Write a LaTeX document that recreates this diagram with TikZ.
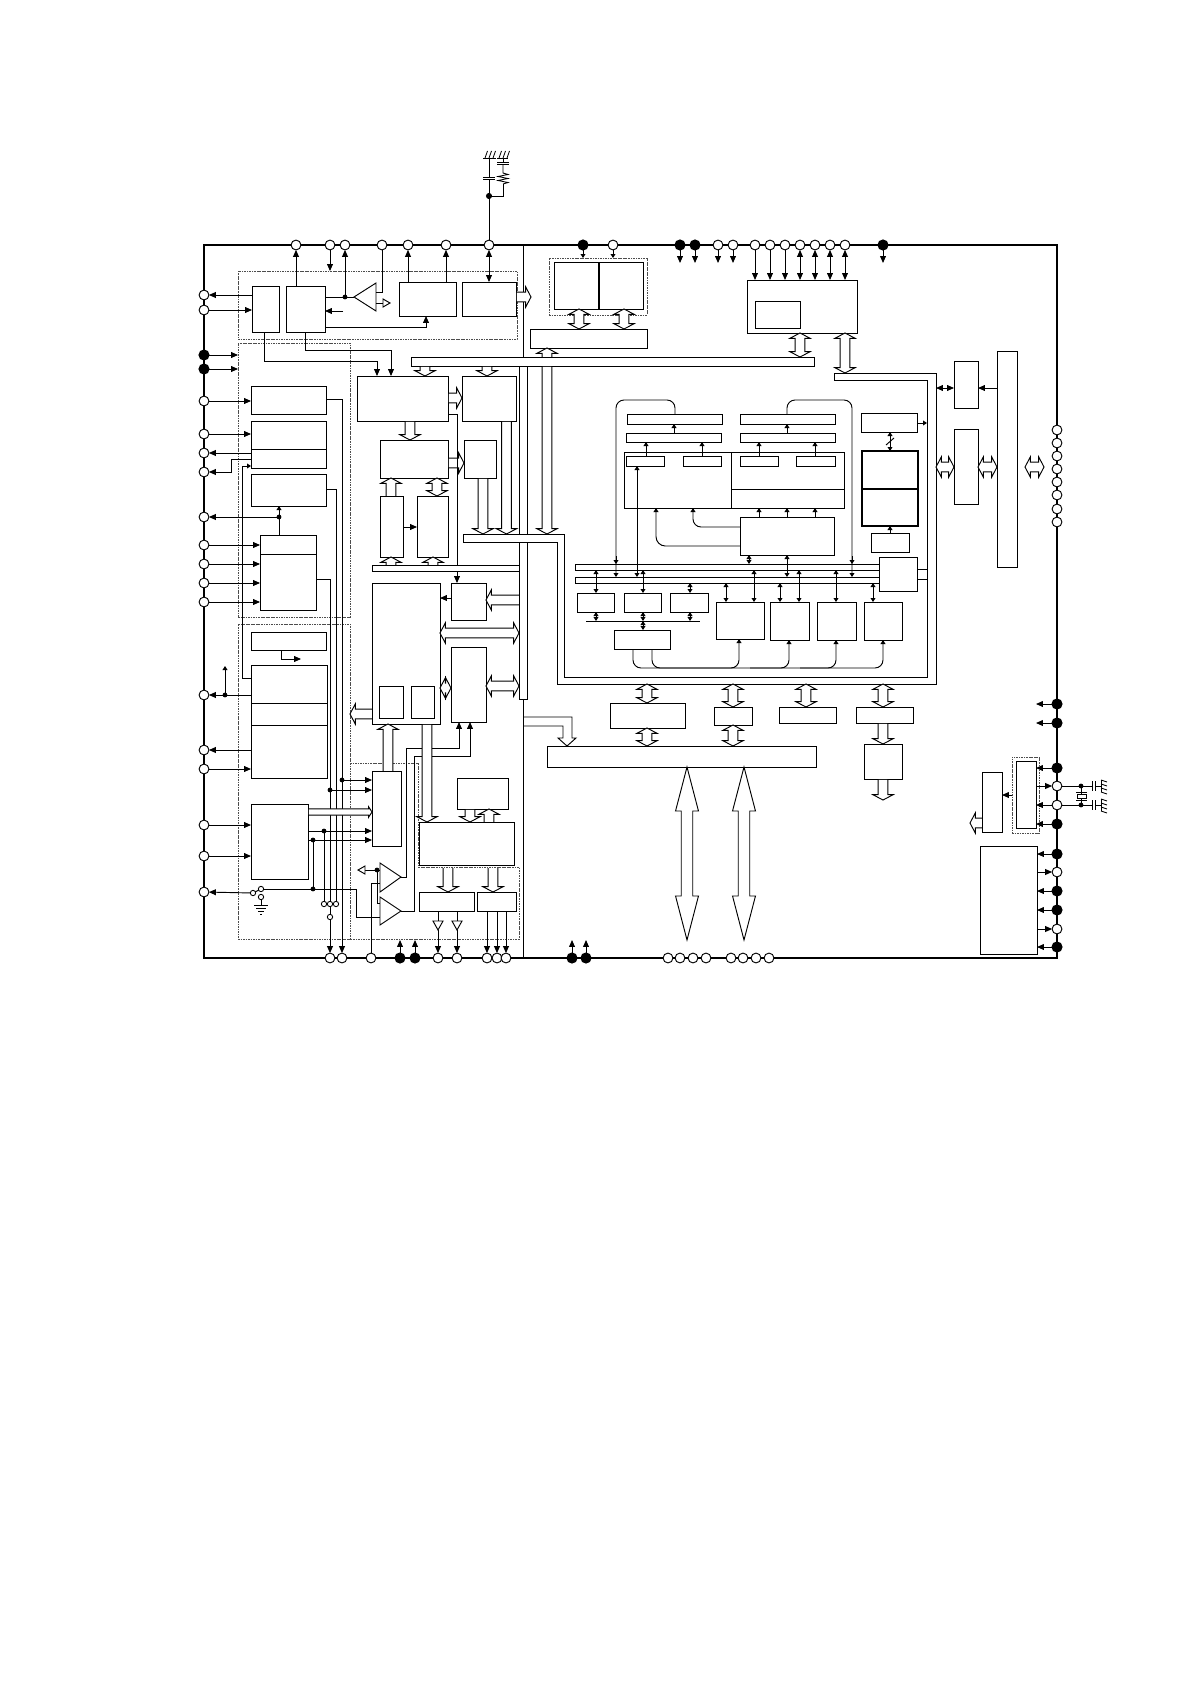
\documentclass[tikz,border=0pt]{standalone}
\usetikzlibrary{calc,arrows.meta}
\tikzset{
 blk/.style={draw=black,fill=white,line width=0.7pt,inner sep=0pt,outer sep=0pt},
 dashbox/.style={draw=black!70,fill=none,line width=0.75pt,dash pattern=on 1.3pt off 0.6pt},
 ln/.style={draw=black,line width=0.7pt},
 arr/.style={ln,-{Triangle[length=5.2pt,width=4.4pt]}},
 dbl/.style={ln,{Triangle[length=5.2pt,width=4.4pt]}-{Triangle[length=5.2pt,width=4.4pt]}},
 sarr/.style={ln,-{Triangle[length=3pt,width=3.6pt]}},
 sdbl/.style={ln,{Triangle[length=3pt,width=3.6pt]}-{Triangle[length=3pt,width=3.6pt]}},
 widea/.style={draw=black,fill=white,line width=0.7pt,line join=miter},
 opin/.style={circle,draw=black,fill=white,line width=0.7pt,minimum size=7.4pt,inner sep=0pt,outer sep=0pt},
 fpin/.style={circle,draw=black,fill=black,line width=0.7pt,minimum size=7.6pt,inner sep=0pt,outer sep=0pt},
 dotn/.style={circle,fill=black,minimum size=3.6pt,inner sep=0pt,outer sep=0pt},
 tinyo/.style={circle,draw=black,fill=white,line width=0.65pt,minimum size=4pt,inner sep=0pt,outer sep=0pt},
 frameln/.style={draw=black,line width=1.7pt},
}
\newcommand\bx[6][]{%
 \pgfmathsetmacro\bw{(#5-#3)*0.75}\pgfmathsetmacro\bh{(#6-#4)*0.75}%
 \node[blk,minimum width=\bw pt,minimum height=\bh pt,#1] (#2) at ({(#3+#5)/2},{(#4+#6)/2}) {};}
% wide (hollow) arrows: head at the end, or at both ends
\newcommand\Wide[3][]{\begingroup\def\wh{3.7pt}\def\wH{7.6pt}\def\wL{4pt}#1%
 \coordinate (wa) at (#2);\coordinate (wb) at (#3);
 \coordinate (wc) at ($(wb)!\wL!(wa)$);
 \coordinate (we) at ($(wa)!0.6pt!(wb)$);
 \fill[white] ($(we)!\wh!90:(wb)$) -- ($(wc)!\wh!90:(wb)$) -- ($(wc)!\wH!90:(wb)$) -- (wb) -- ($(wc)!\wH!-90:(wb)$) -- ($(wc)!\wh!-90:(wb)$) -- ($(we)!\wh!-90:(wb)$) -- cycle;
 \draw[widea,fill=none] ($(wa)!\wh!90:(wb)$) -- ($(wc)!\wh!90:(wb)$) -- ($(wc)!\wH!90:(wb)$) -- (wb) -- ($(wc)!\wH!-90:(wb)$) -- ($(wc)!\wh!-90:(wb)$) -- ($(wa)!\wh!-90:(wb)$);
 \endgroup}
\newcommand\WideD[3][]{\begingroup\def\wh{3.7pt}\def\wH{7.6pt}\def\wL{4pt}#1%
 \coordinate (wa) at (#2);\coordinate (wb) at (#3);
 \coordinate (wc) at ($(wb)!\wL!(wa)$);\coordinate (wd) at ($(wa)!\wL!(wb)$);
 \draw[widea] (wa) -- ($(wd)!\wH!90:(wb)$) -- ($(wd)!\wh!90:(wb)$) -- ($(wc)!\wh!90:(wb)$) -- ($(wc)!\wH!90:(wb)$) -- (wb) -- ($(wc)!\wH!-90:(wb)$) -- ($(wc)!\wh!-90:(wb)$) -- ($(wd)!\wh!-90:(wb)$) -- ($(wd)!\wH!-90:(wb)$) -- cycle;
 \endgroup}
\begin{document}
\begin{tikzpicture}[x=0.75pt,y=-0.75pt]
\useasboundingbox (0,0) rectangle (1191,1684);
\fill[white] (0,0) rectangle (1191,1684);
% ---- vertical divider
\draw[ln] (523,245) -- (523,357);
\draw[ln] (523,699) -- (523,958);
% ---- frame and pins
\draw[frameln] (204,245) rectangle (1057,958);
\foreach \x in {296,330,345,382,408,446,489,613,718,733,755,770,785,800,815,830,845}
 \node[opin] (pT\x) at (\x,245) {};
\foreach \x in {583,680,695,883} \node[fpin] (pT\x) at (\x,245) {};
\foreach \y in {295,310,401,434,453,472,517,545,564,583,602,695,750,769,825,856,892}
 \node[opin] (pL\y) at (204,\y) {};
\foreach \y in {355,369} \node[fpin] (pL\y) at (204,\y) {};
\foreach \x in {330,342,371,438,457,487,497,506,668,680,693,706,731,743,756,769}
 \node[opin] (pB\x) at (\x,958) {};
\foreach \x in {400,415,572,586} \node[fpin] (pB\x) at (\x,958) {};
\foreach \y in {430,443,456,469,482,495,509,522,786,805,872,929}
 \node[opin] (pR\y) at (1057,\y) {};
\foreach \y in {704,723,768,824,854,891,910,947} \node[fpin] (pR\y) at (1057,\y) {};
% ---- dashed regions
\bx[dashbox]{dA}{238}{271}{517}{339}
\bx[dashbox]{dB}{238}{343}{350}{617}
\bx[dashbox]{dC}{238}{624}{350}{939}
\bx[dashbox]{dE}{549}{258}{647}{315}
\bx[dashbox]{dF}{1012}{757}{1039}{833}
\draw[dashbox] (350,763) -- (418,763) -- (418,867) -- (519,867) -- (519,939) -- (350,939);
% ---- boxes, upper left
\bx{bA}{252}{286}{279}{332}
\bx{bB}{286}{286}{325}{332}
\bx{bC}{399}{282}{456}{316}
\bx{bD}{462}{282}{516}{316}
\bx{bE}{357}{376}{448}{421}
\bx{bF}{462}{376}{516}{421}
\bx{bG}{251}{386}{326}{414}
\bx{bH}{251}{421}{326}{468}
\bx{bI}{251}{474}{326}{506}
\bx{bJ}{260}{535}{316}{610}
\bx{bK}{251}{632}{326}{650}
\bx{bL}{251}{665}{327}{778}
\bx{bM}{251}{804}{308}{879}
\bx{bN}{380}{440}{448}{478}
\bx{bO}{464}{440}{496}{478}
\bx{bP}{380}{496}{403}{557}
\bx{bQ}{417}{496}{448}{557}
\bx{bR}{372}{583}{440}{724}
\bx{bRa}{379}{686}{403}{718}
\bx{bRb}{411}{686}{434}{718}
\bx{bS}{451}{583}{486}{620}
\bx{bU}{451}{647}{486}{722}
\bx{bV}{372}{771}{401}{846}
\bx{bW}{457}{778}{508}{809}
\bx{bX}{419}{822}{514}{865}
\bx{bY}{419}{892}{474}{911}
\bx{bZ}{477}{892}{516}{911}
\draw[ln] (251,449) -- (326,449);
\draw[ln] (260,554) -- (316,554);
\draw[ln] (251,703) -- (327,703);
\draw[ln] (251,725) -- (327,725);
% triangles
\node[coordinate] (tAtip) at (354,297) {};
\draw[widea] (tAtip) -- (376,283) -- (376,311) -- cycle;
\node[coordinate] (tBtip) at (401,877) {};
\draw[widea] (tBtip) -- (380,863) -- (380,892) -- cycle;
\node[coordinate] (tCtip) at (401,911) {};
\draw[widea] (tCtip) -- (380,897) -- (380,925) -- cycle;
% ---- buses
\bx{vB}{519}{366}{527}{699}
\bx{tB}{411}{357}{814}{366}
\bx{bB2}{372}{565}{519}{571}
\draw[widea] (463,534) -- (564,534) -- (564,677) -- (927,677) -- (927,380) -- (834,380) -- (834,373) -- (936,373) -- (936,684) -- (557,684) -- (557,542) -- (463,542) -- cycle;
\coordinate (bm) at (463,538);
% ---- top blocks
\bx{tL}{554}{262}{598}{309}
\bx{tR}{599}{262}{643}{309}
\bx{tM}{530}{329}{647}{348}
\bx{zO}{747}{280}{857}{333}
\bx{zI}{755}{301}{800}{328}
% ---- memory section
\bx{r1}{627}{414}{722}{424}
\bx{r2}{626}{433}{721}{442}
\bx{r3}{740}{414}{835}{424}
\bx{r4}{740}{433}{835}{442}
\bx{mG}{624}{452}{844}{508}
\draw[ln] (731,452) -- (731,508);
\draw[ln] (731,489) -- (844,489);
\bx{s1}{626}{456}{664}{466}
\bx{s2}{683}{456}{721}{466}
\bx{s3}{740}{456}{778}{466}
\bx{s4}{796}{456}{835}{466}
\bx{sS}{740}{517}{834}{555}
\bx{bus1}{575}{564}{880}{570}
\bx{bus2}{575}{577}{880}{583}
\bx{bT}{879}{557}{917}{591}
\bx{u1}{577}{593}{614}{612}
\bx{u2}{624}{593}{661}{612}
\bx{u3}{670}{593}{708}{612}
\bx{vV}{614}{630}{670}{649}
\bx{w1}{716}{602}{764}{639}
\bx{w2}{770}{602}{809}{640}
\bx{w3}{817}{602}{856}{640}
\bx{w4}{864}{602}{902}{640}
\bx{x1}{861}{413}{917}{432}
\bx[line width=1.6pt]{x2}{862}{451}{918}{526}
\draw[line width=1.6pt] (862,489) -- (918,489);
\bx{x3}{871}{533}{909}{552}
\bx{y1}{954}{361}{978}{408}
\bx{y2}{954}{429}{978}{504}
\bx{y3}{997}{351}{1017}{567}
% ---- lower middle
\bx{la}{610}{703}{685}{728}
\bx{lb}{714}{707}{752}{725}
\bx{lc}{779}{707}{836}{723}
\bx{ld}{856}{707}{913}{723}
\bx{le}{547}{746}{816}{767}
\bx{lf}{864}{744}{902}{779}
% ---- right
\bx{rh}{1016}{761}{1036}{828}
\bx{rg}{982}{772}{1002}{832}
\bx{ri}{980}{846}{1037}{954}
% ---- pins to blocks, top
\draw[arr] (296,0 |- bB.north) -- (pT296);
\draw[arr] (pT330) -- (pT330 |- dA.north);
\draw[ln] (bB.east |- 0,297) -- (tAtip);
\node[dotn] (dn1) at (345,297) {};
\draw[arr] (dn1) -- (pT345);
\draw[ln] (pT382) -- (382,292) -- (376,292);
\draw[ln] (376,303) -- (383,303);
\draw[widea] (383,299) -- (390,303) -- (383,307) -- cycle;
\coordinate (aB) at (343,311);
\draw[arr] (aB) -- (aB -| bB.east);
\draw[arr] (bB.east |- 0,327) -- (426,327) -- (426,0 |- bC.south);
\draw[arr] (408,0 |- bC.north) -- (pT408);
\draw[arr] (446,0 |- bC.north) -- (pT446);
\draw[dbl] (pT489) -- (pT489 |- bD.north);
\draw[arr] (bA.west |- pL295) -- (pL295);
\draw[arr] (pL310) -- (pL310 -| bA.west);
\draw[arr] (264,0 |- bA.south) -- (264,361) -- (377,361) -- (377,0 |- bE.north);
\draw[arr] (305,0 |- bB.south) -- (305,350) -- (391,350) -- (391,0 |- bE.north);
\draw[arr] (pL355) -- (pL355 -| dB.west);
\draw[arr] (pL369) -- (pL369 -| dB.west);
\draw[arr] (pL401) -- (pL401 -| bG.west);
\draw[arr] (pL434) -- (pL434 -| bH.west);
\draw[arr] (bH.west |- pL453) -- (pL453);
\draw[arr] (bH.west |- 0,459) -- (231,459) -- (231,472) -- (pL472);
\draw[sarr] (bL.west |- 0,678) -- (242,678) -- (242,466) -- (bH.west |- 0,466);
\node[dotn] (dn2) at (279,517) {};
\draw[arr] (dn2) -- (pL517);
\draw[sarr] (279,0 |- bJ.north) -- (279,0 |- bI.south);
\foreach \y in {545,564,583,602} \draw[arr] (pL\y) -- (pL\y -| bJ.west);
\draw[arr] (281,0 |- bK.south) -- (281,659) -- (301,659);
\node[dotn] (dn3) at (225,695) {};
\draw[arr] (bL.west |- pL695) -- (pL695);
\draw[sarr] (dn3) -- (225,666);
\draw[arr] (bL.west |- pL750) -- (pL750);
\draw[arr] (pL769) -- (pL769 -| bL.west);
\draw[arr] (pL825) -- (pL825 -| bM.west);
\draw[arr] (pL856) -- (pL856 -| bM.west);
% switch and ground
\node[tinyo] (sw1) at (253,893) {};
\node[tinyo] (sw2) at (261,889) {};
\node[tinyo] (sw3) at (261,897) {};
\draw[ln] (sw1) -- (sw2);
\draw[arr] (sw1) -- (pL892);
\coordinate (gnd) at (261,905);
\draw[ln] (sw3) -- (gnd);
\draw[line width=0.6pt] (254,905) -- (268,905) (256,908) -- (266,908) (258,911) -- (264,911) (260,914) -- (262,914);
% lines from the left column
\node[dotn] (dn4) at (313,889) {};
\node[dotn] (dn5) at (313,840) {};
\node[dotn] (dn6) at (324,831) {};
\node[dotn] (dn7) at (342,780) {};
\node[dotn] (dn8) at (330,790) {};
\node[tinyo] (c1) at (324,904) {};
\node[tinyo] (c2) at (330,904) {};
\node[tinyo] (c3) at (336,904) {};
\node[tinyo] (c4) at (330,917) {};
\draw[ln] (sw2) -- (356,889) -- (356,917) -- (380,917);
\draw[ln] (dn5) -- (dn4);
\draw[ln] (dn6) -- (c1);
\draw[ln] (bI.east |- 0,489) -- (336,489) -- (c3);
\draw[ln] (bJ.east |- 0,579) -- (330,579) -- (c2);
\draw[ln] (c2) -- (c4);
\draw[arr] (c4) -- (pB330);
\draw[arr] (bG.east |- 0,399) -- (342,399) -- (pB342);
\draw[arr] (dn7) -- (dn7 -| bV.west);
\draw[arr] (dn8) -- (dn8 -| bV.west);
\draw[arr] (bM.east |- dn6) -- (dn6 -| bV.west);
\draw[arr] (bM.east |- dn5) -- (dn5 -| bV.west);
\Wide[\def\wh{2.4pt}\def\wH{4pt}\def\wL{2.6pt}]{bM.east |- 0,812}{bV.west |- 0,812}
% triangle wiring
\node[dotn] (dn9) at (377,870) {};
\draw[ln] (dn9) -- (380,870);
\draw[ln] (dn9) -- (365,870);
\draw[widea] (358,870) -- (365,866) -- (365,874) -- cycle;
\draw[ln] (dn9) -- (377,903) -- (380,903);
\draw[ln] (pB371) -- (371,883) -- (380,883);
\draw[arr] (tBtip) -- (406,877) -- (406,748) -- (459,748) -- (459,0 |- bU.south);
\draw[arr] (tCtip) -- (414,911) -- (414,756) -- (470,756) -- (470,0 |- bU.south);
% ---- wide arrows, left/middle
\Wide{bD.east |- 0,297}{531,297}
\Wide{425,0 |- tB.south}{425,0 |- bE.north}
\Wide{487,0 |- tB.south}{487,0 |- bF.north}
\Wide{bE.east |- 0,398}{bF.west |- 0,398}
\Wide{410,0 |- bE.south}{410,0 |- bN.north}
\Wide{bN.east |- 0,463}{bO.west |- 0,463}
\Wide{391,0 |- bP.north}{391,0 |- bN.south}
\WideD{437,0 |- bN.south}{437,0 |- bQ.north}
\Wide{391,0 |- bB2.north}{391,0 |- bP.south}
\Wide{433,0 |- bB2.north}{433,0 |- bQ.south}
\draw[arr] (bP.east |- 0,527) -- (bQ.west |- 0,527);
\draw[ln] (bE.east |- 0,414) -- (457,414) -- (457,0 |- bB2.north);
\draw[arr] (457,0 |- bB2.south) -- (457,0 |- bS.north);
\Wide{483,0 |- bO.south}{483,534}
\Wide{506.5,0 |- bF.south}{506.5,534}
\Wide{547,0 |- tB.south}{547,534}
\Wide{547,0 |- tB.north}{547,0 |- tM.south}
\draw[arr] (bS.west |- 0,598) -- (bR.east |- 0,598);
\Wide{vB.west |- 0,600}{bS.east |- 0,600}
\WideD{bR.east |- 0,633}{vB.west |- 0,633}
\WideD{bU.east |- 0,686}{vB.west |- 0,686}
\WideD{bR.east |- 0,688}{bU.west |- 0,688}
\Wide{bR.west |- 0,714}{350,714}
\Wide{388,0 |- bV.north}{388,0 |- bR.south}
\Wide{427,0 |- bR.south}{427,0 |- bX.north}
\Wide{470,0 |- bW.south}{470,0 |- bX.north}
\Wide{489,0 |- bX.north}{489,0 |- bW.south}
\Wide{448,868}{448,0 |- bY.north}
\Wide{493,868}{493,0 |- bZ.north}
% outputs of the bottom blocks
\coordinate (ta) at (438,921);
\coordinate (tb) at (457,921);
\draw[ln] (438,0 |- bY.south) -- (ta);
\draw[ln] (457,0 |- bY.south) -- (tb);
\draw[widea] (433,921) -- (443,921) -- (438,930) -- cycle;
\draw[widea] (452,921) -- (462,921) -- (457,930) -- cycle;
\draw[arr] (438,930) -- (pB438);
\draw[arr] (457,930) -- (pB457);
\foreach \x in {487,497,506} \draw[arr] (\x,0 |- bZ.south) -- (pB\x);
\foreach \x in {400,415,572,586} \draw[arr] (pB\x) -- (\x,940);
% ---- top pins
\draw[sarr] (pT583) -- (pT583 |- dE.north);
\draw[sarr] (pT613) -- (pT613 |- dE.north);
\foreach \x in {680,695,718,733,883} \draw[arr] (pT\x) -- (\x,263);
\foreach \x in {755,770,785} \draw[arr] (pT\x) -- (pT\x |- zO.north);
\foreach \x in {800,815,830,845} \draw[dbl] (pT\x) -- (pT\x |- zO.north);
\WideD{579,0 |- tL.south}{579,0 |- tM.north}
\WideD{624,0 |- tR.south}{624,0 |- tM.north}
\WideD{800,0 |- zO.south}{800,0 |- tB.north}
\WideD{845,0 |- zO.south}{845,373}
% ---- memory wiring
\draw[sarr] (674,0 |- r2.north) -- (674,0 |- r1.south);
\draw[sarr] (787,0 |- r4.north) -- (787,0 |- r3.south);
\draw[sarr] (646,0 |- s1.north) -- (646,0 |- r2.south);
\draw[sarr] (702,0 |- s2.north) -- (702,0 |- r2.south);
\draw[sarr] (759,0 |- s3.north) -- (759,0 |- r4.south);
\draw[sarr] (815,0 |- s4.north) -- (815,0 |- r4.south);
\foreach \x in {759,787,815} \draw[sarr] (\x,0 |- sS.north) -- (\x,0 |- mG.south);
\draw[sarr,rounded corners=6pt] (sS.west |- 0,527) -- (693,527) -- (693,0 |- mG.south);
\draw[sarr,rounded corners=7pt] (sS.west |- 0,546) -- (656,546) -- (656,0 |- mG.south);
\draw[sarr,rounded corners=6pt] (675,0 |- r1.north) -- (675,400) -- (616,400) -- (616,0 |- bus2.north);
\draw[sarr] (616,556) -- (616,0 |- bus1.north);
\draw[sarr,rounded corners=6pt] (787,0 |- r3.north) -- (787,400) -- (852,400) -- (852,0 |- bus2.north);
\draw[sarr] (852,556) -- (852,0 |- bus1.north);
\draw[sdbl] (637,0 |- s1.south) -- (637,0 |- bus2.north);
\draw[sdbl] (749,0 |- sS.south) -- (749,0 |- bus1.north);
\draw[sdbl] (787,0 |- sS.south) -- (787,0 |- bus2.north);
\draw[sdbl] (596,0 |- bus1.south) -- (596,0 |- u1.north);
\draw[sdbl] (643,0 |- bus1.south) -- (643,0 |- u2.north);
\draw[sdbl] (690,0 |- bus2.south) -- (690,0 |- u3.north);
\draw[sdbl] (726,0 |- bus2.south) -- (726,0 |- w1.north);
\draw[sdbl] (754,0 |- bus1.south) -- (754,0 |- w1.north);
\draw[sdbl] (780,0 |- bus2.south) -- (780,0 |- w2.north);
\draw[sdbl] (799,0 |- bus1.south) -- (799,0 |- w2.north);
\draw[sdbl] (836,0 |- bus1.south) -- (836,0 |- w3.north);
\draw[sdbl] (873,0 |- bus2.south) -- (873,0 |- w4.north);
\coordinate (lu) at (586,621);
\coordinate (lv) at (700,621);
\draw[ln] (lu) -- (lv);
\draw[sdbl] (596,0 |- u1.south) -- (596,621);
\draw[sdbl] (643,0 |- u2.south) -- (643,621);
\draw[sdbl] (690,0 |- u3.south) -- (690,621);
\draw[sdbl] (643,621) -- (643,0 |- vV.north);
\draw[sarr,rounded corners=6pt] (633,0 |- vV.south) -- (633,668) -- (883,668) -- (883,0 |- w4.south);
\draw[sarr,rounded corners=6pt] (652,0 |- vV.south) -- (652,668) -- (739,668) -- (739,0 |- w1.south);
\draw[sarr,rounded corners=6pt] (750,668) -- (789,668) -- (789,0 |- w2.south);
\draw[sarr,rounded corners=6pt] (800,668) -- (836,668) -- (836,0 |- w3.south);
\draw[ln] (bT.east |- 0,569) -- (927,569);
\draw[ln] (bT.east |- 0,579) -- (927,579);
\draw[sarr] (x1.east |- 0,423) -- (927,423);
\draw[sdbl] (890,0 |- x1.south) -- (890,0 |- x2.north);
\draw[ln] (886,445) -- (894,438);
\draw[sarr] (890,0 |- x3.north) -- (890,0 |- x2.south);
% ---- right blocks
\coordinate (qa) at (936,388);
\coordinate (qb) at (945,388);
\draw[arr] (qb) -- (qa);
\draw[arr] (qb) -- (qb -| y1.west);
\draw[arr] (y3.west |- qa) -- (y1.east |- qa);
\WideD{936,467}{y2.west |- 0,467}
\WideD{y2.east |- 0,467}{y3.west |- 0,467}
\WideD{1025,467}{1044,467}
% ---- lower middle wiring
\WideD{647,684}{647,0 |- la.north}
\WideD{733,684}{733,0 |- lb.north}
\WideD{806,684}{806,0 |- lc.north}
\WideD{883,684}{883,0 |- ld.north}
\WideD{647,0 |- la.south}{647,0 |- le.north}
\WideD{733,0 |- lb.south}{733,0 |- le.north}
\Wide{883,0 |- ld.south}{883,0 |- lf.north}
\Wide{883,0 |- lf.south}{883,800}
\draw[widea,fill=none] (523,717) -- (572,717) -- (572,738) -- (576,738) -- (567,746) -- (558,738) -- (563,738) -- (563,726) -- (523,726);
\begingroup
\def\wopts{\def\wh{4.3pt}\def\wH{8.6pt}\def\wL{33pt}}
\WideD[\wopts]{687,0 |- le.south}{687,940}
\WideD[\wopts]{744,0 |- le.south}{744,940}
\endgroup
% ---- right edge
\draw[arr] (pR704) -- (1036,704);
\draw[arr] (pR723) -- (1036,723);
\draw[arr] (pR768) -- (pR768 -| rh.east);
\draw[arr] (rh.east |- pR786) -- (pR786);
\draw[arr] (pR805) -- (pR805 -| rh.east);
\draw[arr] (pR824) -- (pR824 -| rh.east);
\draw[arr] (dF.west |- 0,795) -- (rg.east |- 0,795);
\Wide{rg.west |- 0,823}{970,823}
\foreach \y in {854,891,910,947} \draw[arr] (pR\y) -- (pR\y -| ri.east);
\foreach \y in {872,929} \draw[arr] (ri.east |- pR\y) -- (pR\y);
% ---- crystal and capacitors
\node[dotn] (xa) at (1081,786) {};
\node[dotn] (xb) at (1081,805) {};
\draw[ln] (pR786) -- (xa) -- (1092,786);
\draw[ln] (pR805) -- (xb) -- (1092,805);
\draw[ln] (xa) -- (xb);
\draw[ln,fill=white] (1077,794) rectangle (1086,798);
\draw[line width=0.6pt] (1076,792) -- (1087,792) (1076,800) -- (1087,800);
\foreach \y in {786,805}{
 \draw[line width=0.6pt] (1092,\y-5) -- (1092,\y+5) (1095,\y-5) -- (1095,\y+5) (1095,\y) -- (1101,\y);
 \draw[line width=0.6pt] (1101,\y-6) -- (1101,\y+6);
 \foreach \d in {-6,-2,2,6} \draw[line width=0.6pt] (1101,\y+\d) -- (1107,\y+\d+2);
}
% ---- external network on top
\node[dotn,minimum size=4.6pt] (xc) at (489,196) {};
\draw[ln] (pT489) -- (xc) -- (489,179);
\draw[ln] (489,177) -- (489,158);
\draw[line width=0.6pt] (483,177) -- (495,177) (483,179.5) -- (495,179.5);
\draw[ln] (xc) -- (503,196) -- (503,184);
\draw[line width=0.65pt] (503,184) -- (508,182.5) -- (498,180.5) -- (508,178.5) -- (498,176.5) -- (508,174.5) -- (503,173) -- (503,164);
\draw[line width=0.6pt] (497,164) -- (509,164) (497,162) -- (509,162);
\draw[ln] (503,162) -- (503,158);
\draw[line width=0.6pt] (483,158) -- (496,158) (497,158) -- (508,158);
\foreach \x in {485,489,493,499,503,507} \draw[line width=0.6pt] (\x,158) -- (\x+2.5,151);
\end{tikzpicture}
\end{document}
